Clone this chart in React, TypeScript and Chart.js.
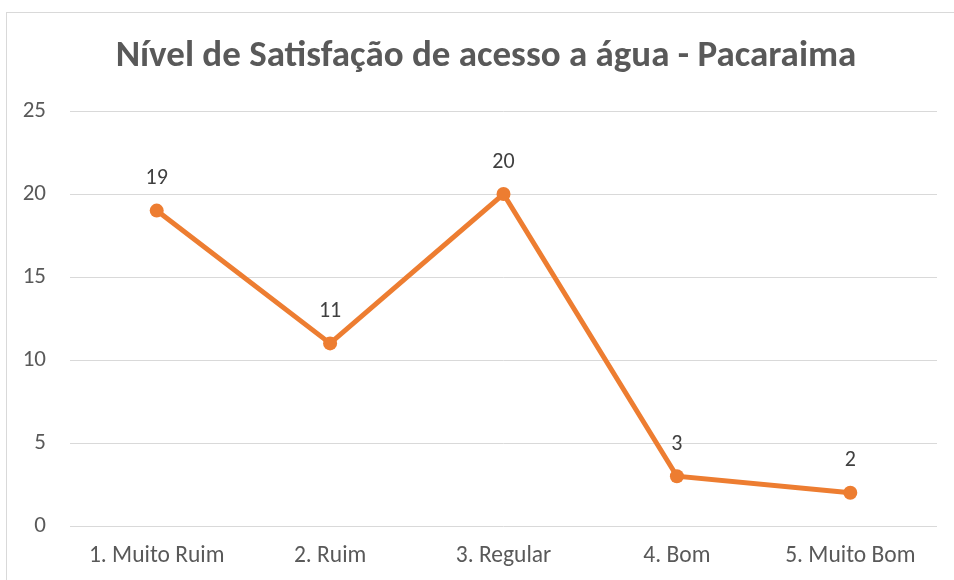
import React, { useEffect, useRef } from "react";
import { Chart, registerables } from "chart.js";

Chart.register(...registerables);

const categories = ["1. Muito Ruim", "2. Ruim", "3. Regular", "4. Bom", "5. Muito Bom"];
const values = [19, 11, 20, 3, 2];
const yTicks = [0, 5, 10, 15, 20, 25];
const title = "Nível de Satisfação de acesso a água - Pacaraima";

const FONT = "Carlito, Calibri, Lato, sans-serif";

const borderPlugin = {
  id: "frameBorder",
  beforeDraw(chart: any) {
    const ctx = chart.ctx;
    ctx.save();
    ctx.fillStyle = "#ffffff";
    ctx.fillRect(0, 0, chart.width, chart.height);
    ctx.strokeStyle = "#d9d9d9";
    ctx.lineWidth = 1;
    ctx.strokeRect(6.5, 12.5, chart.width + 100, chart.height + 100);
    ctx.fillStyle = "#595959";
    ctx.font = `bold 37px ${FONT}`;
    ctx.textAlign = "center";
    ctx.textBaseline = "middle";
    ctx.fillText(title, 486, 57);
    ctx.restore();
  },
};

const labelPlugin = {
  id: "pointLabels",
  afterDatasetsDraw(chart: any) {
    const ctx = chart.ctx;
    const meta = chart.getDatasetMeta(0);
    ctx.save();
    ctx.fillStyle = "#404040";
    ctx.font = `22px ${FONT}`;
    ctx.textAlign = "center";
    ctx.textBaseline = "middle";
    meta.data.forEach((pt: any, i: number) => {
      ctx.fillText(String(values[i]), pt.x, pt.y - 32);
    });
    ctx.restore();
  },
};

export default function App() {
  const ref = useRef<HTMLCanvasElement>(null);
  useEffect(() => {
    document.body.style.margin = "0";
    const chart = new Chart(ref.current!, {
      type: "line",
      data: {
        labels: categories,
        datasets: [
          {
            data: values,
            borderColor: "#ED7D31",
            backgroundColor: "#ED7D31",
            borderWidth: 5,
            pointRadius: 7,
            pointHoverRadius: 7,
            pointBorderWidth: 0,
            tension: 0,
          },
        ],
      },
      options: {
        responsive: false,
        animation: false,
        layout: { padding: { left: 0, right: 17, top: 111, bottom: 0 } },
        plugins: {
          legend: { display: false },
          tooltip: { enabled: false },
          title: { display: false },
        },
        scales: {
          x: {
            offset: true,
            afterFit(axis: any) {
              axis.height = 54;
            },
            grid: { display: false, drawTicks: false },
            border: { display: false },
            ticks: {
              color: "#595959",
              font: { family: FONT, size: 23.5 },
              padding: 16,
              maxRotation: 0,
              autoSkip: false,
            },
          },
          y: {
            min: 0,
            max: 25,
            afterFit(axis: any) {
              axis.width = 70;
            },
            afterBuildTicks(axis: any) {
              axis.ticks = yTicks.map((v) => ({ value: v }));
            },
            grid: { color: "#d9d9d9", lineWidth: 1, drawTicks: false },
            border: { display: false },
            ticks: {
              color: "#595959",
              font: { family: FONT, size: 23 },
              padding: 24,
            },
          },
        },
      },
      plugins: [borderPlugin, labelPlugin],
    });
    return () => chart.destroy();
  }, []);
  return <canvas ref={ref} width={954} height={580} style={{ display: "block" }} />;
}
